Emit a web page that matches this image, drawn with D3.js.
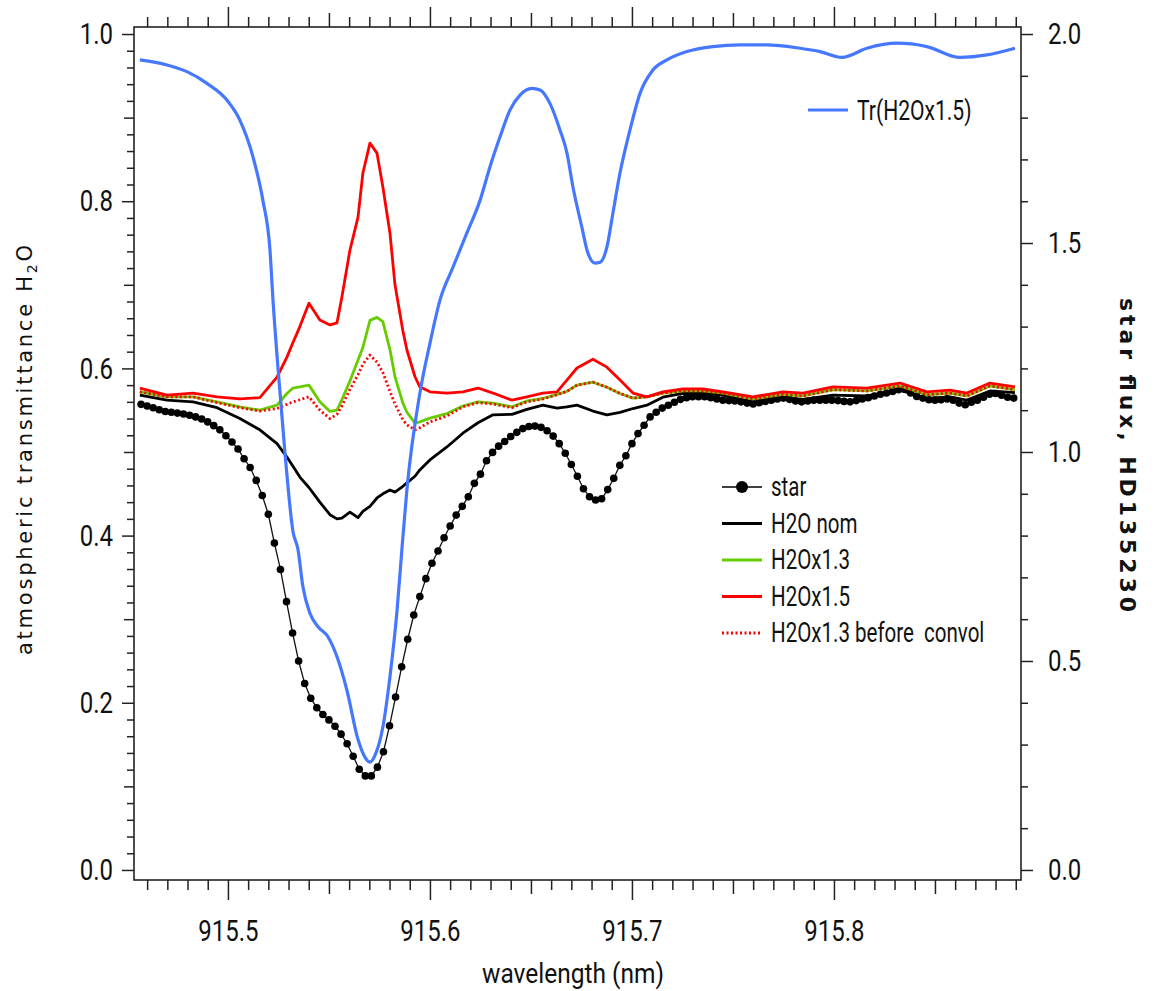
<!DOCTYPE html>
<html>
<head>
<meta charset="utf-8">
<script src="https://cdn.jsdelivr.net/npm/d3@7"></script>
<style>
  body { margin: 0; background: #fff; }
</style>
</head>
<body>
<div id="chart"></div>
<script>
/* global d3 */

// ---- data ----
// star spectrum HD135230 (star flux, right axis), one point per pixel of the spectrograph
var starWave = [915.457,915.460,915.463,915.466,915.469,915.472,915.475,915.478,915.481,915.484,
  915.487,915.490,915.493,915.496,915.499,915.502,915.505,915.508,915.511,915.514,
  915.517,915.520,915.523,915.526,915.529,915.532,915.535,915.538,915.541,915.544,
  915.547,915.550,915.553,915.556,915.559,915.562,915.565,915.568,915.571,915.574,
  915.577,915.580,915.583,915.586,915.589,915.592,915.595,915.598,915.601,915.604,
  915.607,915.610,915.613,915.616,915.619,915.622,915.625,915.628,915.631,915.634,
  915.637,915.640,915.643,915.646,915.649,915.652,915.655,915.658,915.661,915.664,
  915.667,915.670,915.673,915.676,915.679,915.682,915.685,915.688,915.691,915.694,
  915.697,915.700,915.703,915.706,915.709,915.712,915.715,915.718,915.721,915.724,
  915.727,915.730,915.733,915.736,915.739,915.742,915.745,915.748,915.751,915.754,
  915.757,915.760,915.763,915.766,915.769,915.772,915.775,915.778,915.781,915.784,
  915.787,915.790,915.793,915.796,915.799,915.802,915.805,915.808,915.811,915.814,
  915.817,915.820,915.823,915.826,915.829,915.832,915.835,915.838,915.841,915.844,
  915.847,915.850,915.853,915.856,915.859,915.862,915.865,915.868,915.871,915.874,
  915.877,915.880,915.883,915.886,915.889];
var starFlux = [1.114,1.110,1.106,1.101,1.097,1.095,1.093,1.091,1.088,1.084,
  1.079,1.072,1.063,1.053,1.039,1.024,1.007,0.984,0.963,0.932,
  0.896,0.851,0.782,0.719,0.642,0.567,0.500,0.446,0.411,0.388,
  0.372,0.359,0.344,0.325,0.302,0.272,0.241,0.225,0.225,0.246,
  0.283,0.345,0.414,0.486,0.552,0.610,0.654,0.697,0.734,0.763,
  0.795,0.823,0.849,0.870,0.893,0.925,0.947,0.979,0.999,1.014,
  1.025,1.037,1.047,1.056,1.061,1.062,1.059,1.051,1.038,1.020,
  0.997,0.970,0.942,0.912,0.893,0.885,0.888,0.910,0.937,0.968,
  0.991,1.020,1.044,1.064,1.084,1.095,1.105,1.112,1.119,1.126,
  1.130,1.132,1.132,1.132,1.130,1.127,1.124,1.123,1.122,1.120,
  1.117,1.115,1.118,1.121,1.124,1.127,1.129,1.126,1.122,1.120,
  1.122,1.124,1.124,1.124,1.124,1.123,1.121,1.120,1.123,1.127,
  1.130,1.134,1.138,1.141,1.145,1.149,1.150,1.141,1.133,1.129,
  1.125,1.124,1.125,1.127,1.124,1.117,1.113,1.119,1.124,1.131,
  1.138,1.140,1.136,1.131,1.129];

// corrected spectra (star / transmittance), right axis
var corrWave = [915.4564,915.4698,915.4827,915.4946,915.5059,915.5158,915.5243,915.5292,915.5322,915.5356,
  915.5401,915.5455,915.5505,915.5540,915.5564,915.5604,915.5644,915.5668,915.5703,915.5738,
  915.5767,915.5802,915.5827,915.5866,915.5886,915.5926,915.5950,915.6000,915.6084,915.6163,
  915.6238,915.6312,915.6406,915.6480,915.6559,915.6629,915.6678,915.6728,915.6807,915.6876,
  915.6941,915.7005,915.7074,915.7153,915.7252,915.7351,915.7450,915.7599,915.7748,915.7847,
  915.7995,915.8163,915.8327,915.8460,915.8574,915.8658,915.8772,915.8896];
var nomFlux = [1.136,1.124,1.120,1.106,1.080,1.053,1.020,0.988,0.966,0.940,
  0.915,0.880,0.850,0.840,0.842,0.856,0.843,0.858,0.870,0.890,
  0.900,0.909,0.904,0.918,0.926,0.942,0.957,0.981,1.012,1.045,
  1.070,1.089,1.090,1.102,1.112,1.105,1.108,1.112,1.098,1.089,
  1.095,1.104,1.112,1.131,1.140,1.141,1.136,1.120,1.130,1.126,
  1.136,1.134,1.148,1.128,1.132,1.124,1.146,1.142];
var x13Flux = [1.144,1.132,1.132,1.120,1.108,1.100,1.112,1.140,1.153,1.156,
  1.160,1.120,1.097,1.100,1.125,1.170,1.220,1.250,1.315,1.322,
  1.312,1.245,1.180,1.117,1.095,1.069,1.072,1.081,1.092,1.110,
  1.120,1.117,1.108,1.122,1.128,1.138,1.145,1.160,1.167,1.155,
  1.140,1.129,1.132,1.141,1.146,1.146,1.141,1.127,1.138,1.134,
  1.149,1.146,1.158,1.137,1.141,1.134,1.158,1.149];
var x15Flux = [1.153,1.136,1.141,1.132,1.127,1.130,1.179,1.227,1.262,1.300,
  1.356,1.316,1.304,1.309,1.370,1.483,1.562,1.667,1.739,1.715,
  1.634,1.524,1.400,1.290,1.244,1.180,1.156,1.144,1.141,1.144,
  1.153,1.141,1.124,1.132,1.141,1.144,1.172,1.201,1.222,1.203,
  1.172,1.141,1.132,1.144,1.151,1.151,1.144,1.132,1.144,1.141,
  1.156,1.153,1.165,1.144,1.148,1.141,1.165,1.156];
var x13RawFlux = [1.144,1.132,1.132,1.118,1.106,1.098,1.104,1.114,1.120,1.125,
  1.132,1.100,1.080,1.090,1.110,1.150,1.185,1.210,1.232,1.215,
  1.190,1.145,1.115,1.077,1.065,1.053,1.058,1.072,1.086,1.108,
  1.118,1.115,1.106,1.120,1.127,1.137,1.145,1.160,1.167,1.155,
  1.140,1.129,1.132,1.141,1.146,1.146,1.141,1.127,1.138,1.134,
  1.149,1.146,1.158,1.137,1.141,1.134,1.158,1.149];

// atmospheric transmittance for H2O x1.5 (left axis)
var trWave = [915.4564,915.4698,915.4797,915.4896,915.4995,915.5059,915.5124,915.5173,915.5208,915.5223,
  915.5248,915.5282,915.5322,915.5347,915.5371,915.5406,915.5446,915.5495,915.5540,915.5589,
  915.5644,915.5678,915.5703,915.5733,915.5767,915.5802,915.5837,915.5861,915.5886,915.5950,
  915.6000,915.6050,915.6114,915.6183,915.6248,915.6297,915.6347,915.6396,915.6446,915.6505,
  915.6545,915.6594,915.6644,915.6678,915.6708,915.6752,915.6782,915.6817,915.6842,915.6876,
  915.6906,915.6941,915.6990,915.7040,915.7104,915.7173,915.7272,915.7401,915.7535,915.7668,
  915.7832,915.7931,915.8040,915.8163,915.8312,915.8460,915.8624,915.8757,915.8896];
var trValue = [0.969,0.963,0.955,0.941,0.921,0.897,0.853,0.801,0.742,0.682,
  0.600,0.500,0.405,0.383,0.339,0.307,0.291,0.279,0.255,0.215,
  0.156,0.135,0.129,0.140,0.171,0.231,0.310,0.383,0.455,0.570,
  0.630,0.682,0.721,0.762,0.801,0.841,0.877,0.909,0.927,0.935,
  0.933,0.917,0.885,0.858,0.817,0.769,0.738,0.726,0.727,0.745,
  0.786,0.834,0.885,0.929,0.957,0.969,0.979,0.985,0.987,0.987,
  0.983,0.979,0.972,0.983,0.989,0.985,0.972,0.975,0.983];

// tick labels
var xTickLabels = [915.5, 915.6, 915.7, 915.8];
var leftTickLabels = [0.0, 0.2, 0.4, 0.6, 0.8, 1.0];
var rightTickLabels = [0.0, 0.5, 1.0, 1.5, 2.0];

var legendNames = ["star", "H2O nom", "H2Ox1.3", "H2Ox1.5", "H2Ox1.3 before  convol"];

// ---- layout ----
var width = 1155,
    height = 991,
    margin = {top: 27, right: 134, bottom: 111, left: 134},
    innerWidth = width - margin.left - margin.right,
    innerHeight = height - margin.top - margin.bottom;

// no condensed face installed, so Roboto gets squeezed with textLength
var narrow = "Roboto, 'Noto Sans', sans-serif";

var xScale = d3.scaleLinear().domain([915.4535, 915.8926]).range([margin.left, margin.left + innerWidth]);
var yLeft = d3.scaleLinear().domain([-0.012, 1.0084]).range([margin.top + innerHeight, margin.top]);
var yRight = d3.scaleLinear().domain([-0.024, 2.0168]).range([margin.top + innerHeight, margin.top]);

var svg = d3.select("#chart").append("svg")
    .attr("width", width)
    .attr("height", height);

// squeeze text horizontally by k
function condense(sel, k) {
  sel.each(function() {
    var w = this.getComputedTextLength();
    d3.select(this).attr("textLength", w * k).attr("lengthAdjust", "spacingAndGlyphs");
  });
}

// helper: one layer of ticks, optionally labelled
function addTicks(axisFn, scale, values, size, labelled, pad, transform) {
  var ax = axisFn(scale).tickValues(values).tickSize(size).tickSizeOuter(0);
  if (labelled) {
    ax.tickFormat(d3.format(".1f")).tickPadding(pad);
  }
  var g = svg.append("g").attr("transform", transform).call(ax);
  g.select(".domain").remove();
  g.attr("font-family", narrow).attr("font-size", 30);
  g.selectAll(".tick line").attr("stroke", "#222").attr("stroke-width", 1.5);
  if (labelled) {
    g.selectAll(".tick text").attr("fill", "#111").call(condense, 0.8);
  } else {
    g.selectAll(".tick text").remove();
  }
  return g;
}

function near(v, step) {
  return Math.abs(v / step - Math.round(v / step)) < 1e-6;
}

// x ticks: every 0.01, longer at 0.05, labels at 0.1
var xAll = d3.range(46, 90).map(function(i) { return 915 + i / 100; });
var xMinor = xAll.filter(function(v) { return !near(v - 915, 0.05); });
var xMid = xAll.filter(function(v) { return near(v - 915, 0.05) && !near(v - 915, 0.1); });

var bottomY = "translate(0," + (margin.top + innerHeight) + ")";
var topY = "translate(0," + margin.top + ")";
addTicks(d3.axisBottom, xScale, xMinor, 10, false, 0, bottomY);
addTicks(d3.axisBottom, xScale, xMid, 14, false, 0, bottomY);
addTicks(d3.axisBottom, xScale, xTickLabels, 20, true, 20, bottomY);
addTicks(d3.axisTop, xScale, xMinor, 10, false, 0, topY);
addTicks(d3.axisTop, xScale, xMid, 14, false, 0, topY);
addTicks(d3.axisTop, xScale, xTickLabels, 20, false, 0, topY);

// left axis: every 0.02, longer at 0.1, labels at 0.2
var lAll = d3.range(0, 51).map(function(i) { return i / 50; });
var lMinor = lAll.filter(function(v) { return !near(v, 0.1); });
var lMid = lAll.filter(function(v) { return near(v, 0.1) && !near(v, 0.2); });
var leftX = "translate(" + margin.left + ",0)";
addTicks(d3.axisLeft, yLeft, lMinor, 7, false, 0, leftX);
addTicks(d3.axisLeft, yLeft, lMid, 10, false, 0, leftX);
addTicks(d3.axisLeft, yLeft, leftTickLabels, 12, true, 9, leftX);

// right axis: every 0.1, labels at 0.5
var rAll = d3.range(0, 21).map(function(i) { return i / 10; });
var rMinor = rAll.filter(function(v) { return !near(v, 0.5); });
var rightX = "translate(" + (margin.left + innerWidth) + ",0)";
addTicks(d3.axisRight, yRight, rMinor, 7, false, 0, rightX);
addTicks(d3.axisRight, yRight, rightTickLabels, 12, true, 15, rightX);

// frame
svg.append("rect")
    .attr("x", margin.left)
    .attr("y", margin.top)
    .attr("width", innerWidth)
    .attr("height", innerHeight)
    .attr("fill", "none")
    .attr("stroke", "#222")
    .attr("stroke-width", 1.6);

// ---- series ----
var plot = svg.append("g");

function lineFor(xs, ys, yScale, curve) {
  var pts = xs.map(function(x, i) { return [x, ys[i]]; });
  return d3.line()
    .curve(curve || d3.curveLinear)
    .x(function(d) { return xScale(d[0]); })
    .y(function(d) { return yScale(d[1]); })(pts);
}

// star: thin line + dots
plot.append("path")
    .attr("d", lineFor(starWave, starFlux, yRight))
    .attr("fill", "none")
    .attr("stroke", "#111")
    .attr("stroke-width", 1.3);

plot.selectAll(".star")
    .data(starWave)
    .enter().append("circle")
    .attr("class", "star")
    .attr("cx", function(d) { return xScale(d); })
    .attr("cy", function(d, i) { return yRight(starFlux[i]); })
    .attr("r", 3.8)
    .attr("fill", "#000");

var styles = [
  {ys: nomFlux, color: "#000", dash: null, w: 2.8},
  {ys: x13Flux, color: "#66cc00", dash: null, w: 2.8},
  {ys: x15Flux, color: "#ff0000", dash: null, w: 2.8},
  {ys: x13RawFlux, color: "#ff0000", dash: "2,2.5", w: 2.8}
];

styles.forEach(function(s) {
  plot.append("path")
      .attr("d", lineFor(corrWave, s.ys, yRight))
      .attr("fill", "none")
      .attr("stroke", s.color)
      .attr("stroke-width", s.w)
      .attr("stroke-dasharray", s.dash)
      .attr("stroke-linejoin", "round");
});

// transmittance (left axis)
plot.append("path")
    .attr("d", lineFor(trWave, trValue, yLeft, d3.curveMonotoneX))
    .attr("fill", "none")
    .attr("stroke", "#4678ff")
    .attr("stroke-width", 3.2)
    .attr("stroke-linejoin", "round");

// ---- legends ----
var legTr = svg.append("g").attr("transform", "translate(808,110)");
legTr.append("line").attr("x1", 0).attr("x2", 40)
    .attr("stroke", "#4678ff").attr("stroke-width", 3.2);
legTr.append("text").attr("x", 49).attr("y", 10)
    .attr("font-family", narrow).attr("font-size", 27).attr("fill", "#111")
    .text("Tr(H2Ox1.5)")
    .call(condense, 0.78);

var leg = svg.append("g").attr("transform", "translate(722,487)");
var legStyles = [
  {color: "#000", dash: null, w: 1.5, dot: true},
  {color: "#000", dash: null, w: 2.8},
  {color: "#66cc00", dash: null, w: 3.2},
  {color: "#ff0000", dash: null, w: 3.2},
  {color: "#ff0000", dash: "2,2.5", w: 2.8}
];
legendNames.forEach(function(name, i) {
  var row = leg.append("g").attr("transform", "translate(0," + (i * 36.5) + ")");
  var s = legStyles[i];
  row.append("line").attr("x1", 0).attr("x2", 40)
      .attr("stroke", s.color).attr("stroke-width", s.w)
      .attr("stroke-dasharray", s.dash);
  if (s.dot) {
    row.append("circle").attr("cx", 20).attr("r", 6).attr("fill", "#000");
  }
  row.append("text").attr("x", 49).attr("y", 9)
      .attr("font-family", narrow).attr("font-size", 27).attr("fill", "#111")
      .style("white-space", "pre")
      .text(name)
      .call(condense, 0.76);
});

// ---- axis titles ----
var leftTitle = svg.append("text")
    .attr("transform", "translate(32,450) rotate(-90)")
    .attr("text-anchor", "middle")
    .attr("font-family", "'DejaVu Sans', Verdana, sans-serif")
    .attr("font-size", 21)
    .attr("fill", "#111")
    .attr("textLength", 410)
    .attr("lengthAdjust", "spacing");
leftTitle.append("tspan").text("atmospheric transmittance H");
leftTitle.append("tspan").attr("font-size", 14).attr("dy", 5).text("2");
leftTitle.append("tspan").attr("dy", -5).text("O");

svg.append("text")
    .attr("transform", "translate(1120,455) rotate(90)")
    .attr("text-anchor", "middle")
    .attr("font-family", "'DejaVu Sans', Verdana, sans-serif")
    .attr("font-weight", "bold")
    .attr("font-size", 22)
    .attr("fill", "#111")
    .attr("textLength", 314)
    .attr("lengthAdjust", "spacing")
    .text("star flux, HD135230");

svg.append("text")
    .attr("x", 573)
    .attr("y", 983)
    .attr("text-anchor", "middle")
    .attr("font-family", narrow)
    .attr("font-size", 27)
    .attr("fill", "#111")
    .attr("textLength", 182)
    .attr("lengthAdjust", "spacingAndGlyphs")
    .text("wavelength (nm)");
</script>
</body>
</html>
